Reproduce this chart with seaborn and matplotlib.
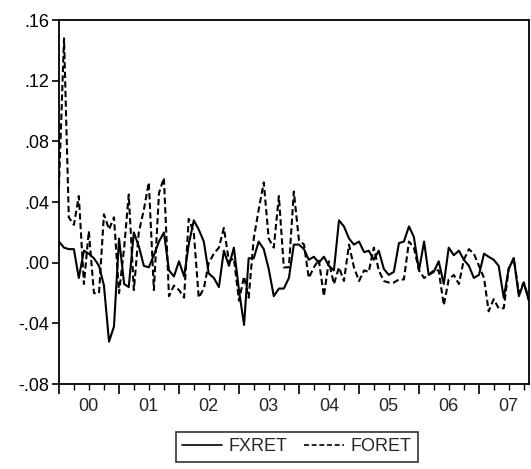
import pandas as pd
import numpy as np
import matplotlib
matplotlib.use("Agg")
import matplotlib.pyplot as plt
import matplotlib.dates as mdates
import matplotlib.transforms as mtransforms
from matplotlib.ticker import FuncFormatter, FixedLocator
import seaborn as sns

# monthly observations, Jan 2000 - Nov 2007
months = pd.date_range("2000-01-01", "2007-11-01", freq="MS")

fxret = [
    0.014, 0.010, 0.009, 0.009, -0.010, 0.008, 0.006, 0.003, -0.002, -0.015,
    -0.052, -0.042, 0.016, -0.014, -0.016, 0.020, 0.011, -0.002, -0.003, 0.005,
    0.014, 0.020, -0.005, -0.009, 0.001, -0.009, 0.012, 0.028, 0.022, 0.014,
    -0.007, -0.010, -0.016, 0.008, -0.002, 0.010, -0.018, -0.041, 0.003, 0.003,
    0.014, 0.009, -0.004, -0.022, -0.017, -0.017, -0.010, 0.012, 0.012, 0.009,
    0.002, 0.004, 0.000, 0.004, -0.002, -0.005, 0.028, 0.024, 0.016, 0.012,
    0.014, 0.007, 0.008, 0.002, 0.008, -0.004, -0.008, -0.006, 0.013, 0.014,
    0.024, 0.017, -0.005, 0.014, -0.008, -0.006, 0.001, -0.014, 0.010, 0.005,
    0.008, 0.002, -0.002, -0.010, -0.008, 0.006, 0.004, 0.002, -0.002, -0.023,
    -0.004, 0.003, -0.022, -0.013, -0.025,
]

foret = [
    0.050, 0.148, 0.030, 0.025, 0.044, -0.014, 0.021, -0.020, -0.020, 0.032,
    0.022, 0.030, -0.020, 0.010, 0.045, -0.018, 0.020, 0.035, 0.053, -0.018,
    0.046, 0.056, -0.022, -0.015, -0.018, -0.023, 0.029, 0.020, -0.023, -0.017,
    0.000, 0.006, 0.010, 0.023, 0.001, 0.003, -0.025, -0.009, -0.023, 0.016,
    0.035, 0.053, 0.016, 0.010, 0.044, -0.003, -0.003, 0.047, 0.015, 0.012,
    -0.010, -0.003, 0.002, -0.022, 0.001, -0.014, -0.003, -0.012, 0.012, -0.003,
    -0.012, -0.005, -0.006, 0.010, -0.005, -0.012, -0.013, -0.013, -0.011, -0.011,
    0.014, 0.010, -0.005, -0.010, -0.008, -0.005, -0.005, -0.028, -0.011, -0.008,
    -0.014, 0.002, 0.009, 0.006, -0.002, -0.010, -0.032, -0.024, -0.030, -0.030,
    -0.004, 0.003, -0.020, -0.013, -0.024,
]

year_labels = ["00", "01", "02", "03", "04", "05", "06", "07"]
y_ticks = [-0.08, -0.04, 0.00, 0.04, 0.08, 0.12, 0.16]

df = pd.DataFrame({"date": months, "FXRET": fxret, "FORET": foret})
long = df.melt(id_vars="date", var_name="series", value_name="value")

sns.set_style("ticks")
plt.rcParams["font.family"] = ["Liberation Sans", "DejaVu Sans"]

fig = plt.figure(figsize=(5.31, 4.69), dpi=100)
ax = fig.add_axes([0.111, 0.181, 0.885, 0.776])

sns.lineplot(data=long, x="date", y="value", hue="series", style="series",
             palette={"FXRET": "black", "FORET": "black"},
             dashes={"FXRET": "", "FORET": (3, 1.6)},
             linewidth=1.5, ax=ax, legend=False)

ax.set_xlim(months[0], months[-1])
ax.set_ylim(-0.08, 0.16)
ax.set_xlabel("")
ax.set_ylabel("")

ax.yaxis.set_major_locator(FixedLocator(y_ticks))
ax.yaxis.set_major_formatter(FuncFormatter(
    lambda v, p: ("-" if v < -1e-9 else "") + f"{abs(v):.2f}".lstrip("0")))

ax.xaxis.set_major_locator(mdates.YearLocator())
ax.xaxis.set_minor_locator(mdates.MonthLocator(bymonth=[4, 7, 10]))
ax.xaxis.set_major_formatter(FuncFormatter(lambda v, p: ""))
ax.tick_params(axis="x", which="major", length=7, width=1.2, direction="out", colors="black")
ax.tick_params(axis="x", which="minor", length=4, width=1.0, direction="out", colors="black")
ax.tick_params(axis="y", which="major", length=5, width=1.2, direction="out",
               labelsize=13, colors="black", pad=2)

# year labels centred within each year
trans = mtransforms.blended_transform_factory(ax.transData, ax.transAxes)
for k, lab in enumerate(year_labels):
    mid = mdates.date2num(pd.Timestamp(2000 + k, 7, 1))
    ax.text(mid, -0.038, lab, transform=trans, ha="center", va="top", fontsize=13)

for s in ax.spines.values():
    s.set_visible(True)
    s.set_color("black")
    s.set_linewidth(1.3)

handles = [plt.Line2D([], [], color="black", lw=1.2),
           plt.Line2D([], [], color="black", lw=1.2, dashes=(3, 1.6))]
leg = fig.legend(handles, ["FXRET", "FORET"], loc="center", ncol=2,
                 bbox_to_anchor=(0.559, 0.047), frameon=True, fancybox=False,
                 fontsize=13, handlelength=2.2, handletextpad=0.4,
                 columnspacing=0.9, borderpad=0.35, borderaxespad=0)
leg.get_frame().set_edgecolor("black")
leg.get_frame().set_linewidth(1.2)

fig.savefig("out.png", dpi=100)
